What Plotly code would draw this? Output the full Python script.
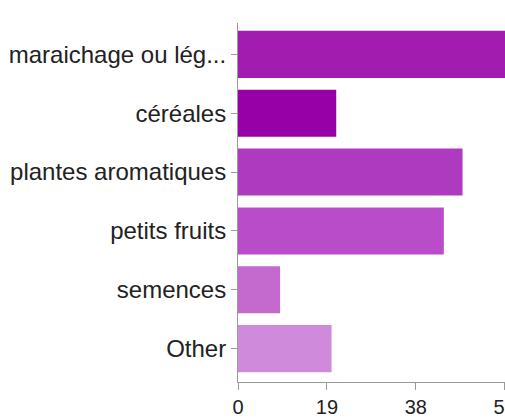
import plotly.graph_objects as go

categories = ["maraichage ou lég...", "céréales", "plantes aromatiques", "petits fruits", "semences", "Other"]
values = [68, 21, 48, 44, 9, 20]
bar_colors = ["#a31cb0", "#9600a6", "#ad3abf", "#b94cc8", "#c46acf", "#cf8adb"]
x_ticks = [0, 19, 38, 57, 76]

fig = go.Figure(
    go.Bar(
        y=categories,
        x=values,
        orientation="h",
        marker=dict(color=bar_colors, line=dict(width=0)),
        width=0.8,
        hoverinfo="x+y",
    )
)

fig.update_layout(
    width=516,
    height=418,
    margin=dict(l=238, r=0, t=23, b=29),
    plot_bgcolor="white",
    paper_bgcolor="white",
    showlegend=False,
    font=dict(family="Liberation Sans, Arial, sans-serif", color="#333333"),
)

fig.update_xaxes(
    range=[0, 59.0],
    tickvals=x_ticks,
    ticktext=[str(t) for t in x_ticks],
    ticklabeloverflow="allow",
    showgrid=False,
    zeroline=False,
    showline=True,
    linecolor="#9a9a9a",
    linewidth=1,
    ticks="outside",
    ticklen=7,
    tickcolor="#9a9a9a",
    tickfont=dict(size=20, color="#222222"),
)

fig.update_yaxes(
    categoryorder="array",
    categoryarray=categories,
    range=[5.567, -0.533],
    showgrid=False,
    zeroline=False,
    showline=True,
    linecolor="#9a9a9a",
    linewidth=1,
    ticks="outside",
    ticklen=6,
    tickcolor="#9a9a9a",
    tickfont=dict(size=24, color="#222222"),
)

fig.write_html(
    "out.html",
    config={"displayModeBar": False},
    post_script="document.body.style.margin='0';document.body.style.overflow='hidden';",
)
